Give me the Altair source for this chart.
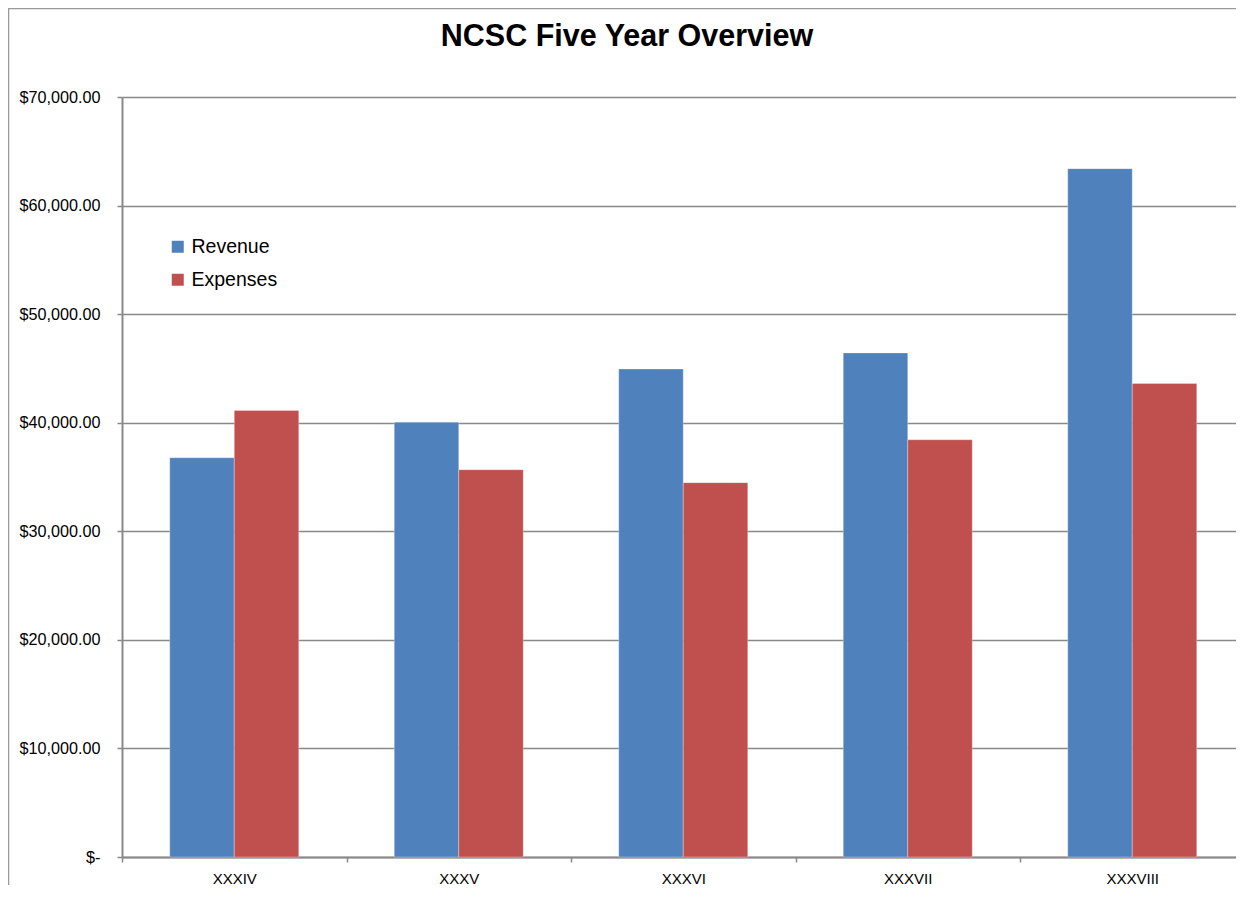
import altair as alt
import pandas as pd

cycles = ["XXXIV", "XXXV", "XXXVI", "XXXVII", "XXXVIII"]
series_names = ["Revenue", "Expenses"]
revenue = [36775, 40050, 44950, 46430, 63400]
expenses = [41130, 35670, 34480, 38430, 43610]
colors = ["#4F81BD", "#C0504D"]

rows = []
for c, r, e in zip(cycles, revenue, expenses):
    rows.append({"cycle": c, "series": "Revenue", "amount": r})
    rows.append({"cycle": c, "series": "Expenses", "amount": e})
df = pd.DataFrame(rows)

W = 1114
XR = 1122.5
H = 760
GRAY = "#898989"
FONT = "Liberation Sans"

bars = alt.Chart(df).mark_bar(stroke="#ffffff", strokeWidth=0.6, strokeOpacity=0.5).encode(
    x=alt.X(
        "cycle:N",
        sort=cycles,
        title=None,
        scale=alt.Scale(paddingInner=0, paddingOuter=0, range=[0, XR]),
        axis=alt.Axis(
            labelAngle=0,
            tickBand="extent",
            tickSize=5,
            tickColor=GRAY,
            tickWidth=1.5,
            domainColor=GRAY,
            domainWidth=2,
            labelFont=FONT,
            labelFontSize=15,
            labelColor="#000000",
            labelPadding=9,
            grid=False,
        ),
    ),
    xOffset=alt.XOffset(
        "series:N",
        sort=series_names,
        scale=alt.Scale(domain=series_names, paddingInner=0, paddingOuter=0.74),
    ),
    y=alt.Y(
        "amount:Q",
        title=None,
        scale=alt.Scale(domain=[0, 70000], nice=False),
        axis=alt.Axis(
            values=[0, 10000, 20000, 30000, 40000, 50000, 60000, 70000],
            labelExpr="datum.value == 0 ? '$-\u00a0\u00a0' : '$' + format(datum.value, ',.2f')",
            tickSize=5,
            tickColor=GRAY,
            tickWidth=1.5,
            domainColor=GRAY,
            domainWidth=2,
            gridColor=GRAY,
            gridWidth=1.5,
            labelFont=FONT,
            labelFontSize=16.2,
            labelColor="#000000",
            labelPadding=17,
        ),
    ),
    color=alt.Color(
        "series:N",
        sort=series_names,
        scale=alt.Scale(domain=series_names, range=colors),
        legend=alt.Legend(
            title=None,
            orient="none",
            legendX=46,
            legendY=140,
            symbolType="square",
            symbolSize=144,
            symbolStrokeWidth=0,
            labelFont=FONT,
            labelFontSize=19.5,
            labelColor="#000000",
            labelOffset=4,
            rowPadding=12,
            padding=0,
        ),
    ),
)

frame = alt.Chart(alt.Data(values=[{"k": 1}])).mark_rect(
    filled=False, stroke="#9a9a9a", strokeWidth=1.5
).encode(
    x=alt.value(-113.5),
    x2=alt.value(W + 40),
    y=alt.value(-88.5),
    y2=alt.value(H + 80),
)

chart = alt.layer(frame, bars).properties(
    width=W,
    height=H,
    padding={"left": 114, "top": 89, "right": 0, "bottom": 28},
    autosize=alt.AutoSizeParams(type="none"),
    title=alt.Title(
        "NCSC Five Year Overview",
        font=FONT,
        fontSize=30.5,
        fontWeight="bold",
        color="#000000",
        anchor="middle",
        frame="group",
        dx=-52,
        offset=-69,
        baseline="alphabetic",
    ),
).configure_view(stroke=None)

chart.save("out.html", embed_options={"renderer": "svg", "actions": False})
